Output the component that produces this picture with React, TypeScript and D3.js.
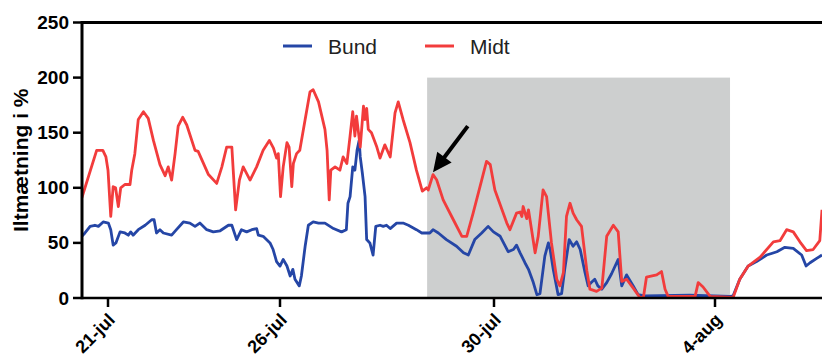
import { useMemo } from "react";
import * as d3 from "d3";

const WIDTH = 822;
const HEIGHT = 360;
const FONT = "'Liberation Sans', Arial, Helvetica, sans-serif";

// x values are in "July days" (4-aug = 35)
const tickDays = [21, 26, 30, 35];
const tickLabels = ["21-jul", "26-jul", "30-jul", "4-aug"];
const yTicks = [0, 50, 100, 150, 200, 250];

const seriesNames = ["Bund", "Midt"];
const seriesColors = ["#2546a6", "#f23c3c"];

// shaded period and the arrow, in data units
const shadeDays = [28.75, 35.34];
const shadeTop = 200;
const arrowFrom = [29.51, 156];
const arrowTo = [28.86, 114];

const midtDays = [
  20.24, 20.67, 20.85, 20.94, 21.0, 21.08, 21.15, 21.22, 21.3, 21.37, 21.49, 21.64, 21.69, 21.78,
  21.88, 22.03, 22.17, 22.32, 22.51, 22.66, 22.75, 22.85, 22.95, 23.04, 23.17, 23.29, 23.53,
  23.62, 23.92, 24.16, 24.31, 24.45, 24.6, 24.64, 24.71, 24.82, 24.93, 25.13, 25.32, 25.51,
  25.69, 25.81, 25.9, 25.95, 26.01, 26.06, 26.13, 26.17, 26.22, 26.25, 26.31, 26.37, 26.47,
  26.56, 26.62, 26.72, 26.84, 26.88, 26.92, 26.95, 27.03, 27.12, 27.18, 27.25, 27.31, 27.36,
  27.4, 27.43, 27.46, 27.5, 27.56, 27.59, 27.62, 27.65, 27.71, 27.81, 27.87, 27.96, 28.06,
  28.15, 28.21, 28.3, 28.43, 28.55, 28.66, 28.74, 28.77, 28.86, 28.93, 29.05, 29.24, 29.4,
  29.49, 29.61, 29.77, 29.86, 29.93, 30.02, 30.29, 30.36, 30.51, 30.59, 30.63, 30.66, 30.74,
  30.78, 30.85, 30.93, 31.0, 31.11, 31.19, 31.3, 31.42, 31.49, 31.57, 31.64, 31.72, 31.79,
  31.87, 31.98, 32.1, 32.17, 32.32, 32.44, 32.55, 32.7, 32.81, 32.89, 33.0, 33.15, 33.3, 33.38,
  33.45, 33.68, 33.79, 33.87, 33.94, 34.55, 34.62, 34.73, 34.89, 35.41, 35.56, 35.75, 36.02,
  36.32, 36.47, 36.62, 36.77, 36.92, 37.07, 37.22, 37.37, 37.42,
];
const midtValues = [
  91, 134, 134, 128, 116, 74, 101, 100, 83, 100, 103, 103, 116, 131,
  162, 169, 163, 143, 121, 111, 119, 107, 131, 156, 164, 157, 134,
  133, 112, 104, 119, 137, 137, 116, 80, 107, 119, 107, 119, 134,
  143, 136, 127, 131, 92, 119, 141, 137, 101, 122, 131, 134, 162,
  187, 189, 178, 153, 134, 89, 116, 119, 116, 128, 122, 147, 169,
  147, 165, 153, 137, 174, 162, 172, 153, 150, 137, 127, 139, 128,
  168, 178, 162, 141, 116, 97, 100, 98, 112, 107, 89, 71, 56,
  56, 77, 107, 124, 121, 98, 68, 62, 77, 78, 74, 83, 72,
  80, 62, 41, 56, 98, 92, 50, 17, 11, 23, 74, 86, 77,
  71, 65, 25, 8, 6, 9, 56, 66, 60, 15, 17, 9, 0.5, 0.5,
  19, 21, 24, 8, 1.5, 1.5, 14, 10, 1.5, 0.5, 17, 29, 37,
  51, 52, 62, 60, 51, 43, 44, 52, 80,
];

const bundDays = [
  20.24, 20.33, 20.48, 20.62, 20.72, 20.86, 21.01, 21.08, 21.15, 21.23, 21.35, 21.49, 21.59,
  21.66, 21.73, 21.88, 22.08, 22.27, 22.34, 22.41, 22.51, 22.61, 22.85, 22.99, 23.19, 23.38,
  23.53, 23.67, 23.87, 24.06, 24.26, 24.5, 24.6, 24.74, 24.88, 25.03, 25.18, 25.32, 25.37,
  25.51, 25.71, 25.8, 25.9, 26.0, 26.06, 26.13, 26.19, 26.24, 26.28, 26.36, 26.4, 26.47, 26.53,
  26.62, 26.72, 26.84, 27.0, 27.15, 27.24, 27.27, 27.31, 27.36, 27.4, 27.44, 27.48, 27.5,
  27.54, 27.59, 27.62, 27.68, 27.74, 27.79, 27.87, 27.93, 27.99, 28.06, 28.18, 28.3, 28.4,
  28.55, 28.65, 28.8, 28.86, 28.96, 29.11, 29.3, 29.43, 29.52, 29.64, 29.77, 29.89, 29.99,
  30.14, 30.32, 30.44, 30.51, 30.59, 30.7, 30.78, 30.89, 30.97, 31.04, 31.15, 31.23, 31.27,
  31.34, 31.45, 31.53, 31.6, 31.7, 31.79, 31.87, 31.95, 32.06, 32.13, 32.2, 32.28, 32.35,
  32.44, 32.55, 32.66, 32.81, 32.89, 33.0, 33.15, 33.26, 33.41, 34.43, 35.34, 35.41, 35.56,
  35.75, 35.94, 36.17, 36.4, 36.58, 36.77, 36.96, 37.06, 37.15, 37.3, 37.42,
];
const bundValues = [
  56, 59, 65, 66, 65, 69, 68, 62, 48, 50, 60, 59, 57,
  60, 57, 62, 66, 71, 71, 59, 62, 59, 57, 62, 69, 68,
  65, 68, 62, 60, 61, 66, 66, 53, 62, 60, 62, 63, 57,
  56, 50, 44, 33, 29, 35, 29, 20, 26, 17, 11, 20, 47, 66,
  69, 68, 68, 63, 60, 62, 86, 92, 119, 116, 134, 143, 128,
  113, 92, 53, 50, 39, 65, 66, 65, 66, 63, 68, 68, 66,
  62, 59, 59, 62, 59, 53, 47, 41, 39, 53, 59, 65, 60,
  56, 42, 44, 48, 41, 32, 26, 14, 3, 4, 38, 50, 44,
  26, 3, 4, 26, 53, 47, 51, 44, 23, 11, 14, 17, 11,
  8, 14, 22, 35, 11, 21, 11, 3, 2, 2.5, 1.5, 2, 17,
  29, 33, 39, 42, 46, 45, 39, 29, 32, 36, 39,
];

export default function App() {
  const x = useMemo(
    () =>
      d3
        .scaleLinear()
        .domain([20.244, 21, 26, 30, 35, 37.42])
        .range([82, 108, 280, 494, 715, 822]),
    []
  );
  const y = useMemo(() => d3.scaleLinear().domain([0, 250]).range([298, 22.5]), []);

  const line = d3
    .line<[number, number]>()
    .x((d) => x(d[0]))
    .y((d) => y(d[1]));

  const series = [
    d3.zip(bundDays, bundValues) as [number, number][],
    d3.zip(midtDays, midtValues) as [number, number][],
  ];

  // arrow geometry from the data points
  const ax0 = x(arrowFrom[0]);
  const ay0 = y(arrowFrom[1]);
  const ax1 = x(arrowTo[0]);
  const ay1 = y(arrowTo[1]);
  const len = Math.hypot(ax1 - ax0, ay1 - ay0);
  const ux = (ax1 - ax0) / len;
  const uy = (ay1 - ay0) / len;
  const headLen = 19;
  const headHalf = 9;
  const bx = ax1 - ux * headLen;
  const by = ay1 - uy * headLen;
  const head = [
    [ax1, ay1],
    [bx - uy * headHalf, by + ux * headHalf],
    [bx + uy * headHalf, by - ux * headHalf],
  ]
    .map((p) => p.join(","))
    .join(" ");

  const left = x.range()[0];
  const right = WIDTH;

  return (
    <svg
      width={WIDTH}
      height={HEIGHT}
      style={{ position: "absolute", left: 0, top: 0, background: "#fff" }}
      fontFamily={FONT}
    >
      <defs>
        <clipPath id="plot">
          <rect x={left} y={0} width={right - left} height={y(0)} />
        </clipPath>
      </defs>

      <rect
        x={x(shadeDays[0])}
        y={y(shadeTop)}
        width={x(shadeDays[1]) - x(shadeDays[0])}
        height={y(0) - y(shadeTop)}
        fill="#cdcfcf"
      />

      <g clipPath="url(#plot)">
        {series.map((s, i) => (
          <path
            key={i}
            d={line(s) ?? ""}
            fill="none"
            stroke={seriesColors[i]}
            strokeWidth={2.8}
            strokeLinejoin="round"
          />
        ))}
      </g>

      {/* arrow */}
      <line x1={ax0} y1={ay0} x2={bx + ux * 2} y2={by + uy * 2} stroke="#000" strokeWidth={4} />
      <polygon points={head} fill="#000" />

      {/* frame */}
      <line x1={left} x2={right} y1={y(250)} y2={y(250)} stroke="#000" strokeWidth={3} />
      <line x1={left} x2={right} y1={y(0)} y2={y(0)} stroke="#000" strokeWidth={2.5} />
      <line x1={left} x2={left} y1={y(250) - 1.5} y2={y(0) + 1.2} stroke="#000" strokeWidth={3} />

      {/* y axis */}
      {yTicks.map((t) => (
        <g key={t}>
          <line x1={73} x2={left} y1={y(t)} y2={y(t)} stroke="#000" strokeWidth={2.5} />
          <text
            x={69}
            y={y(t)}
            textAnchor="end"
            dominantBaseline="central"
            fontSize={19}
            fontWeight="bold"
          >
            {t}
          </text>
        </g>
      ))}
      <text
        transform={`translate(28,${(y(0) + y(250)) / 2}) rotate(-90)`}
        textAnchor="middle"
        fontSize={21}
        fontWeight="bold"
      >
        Iltmætning i %
      </text>

      {/* x axis */}
      {tickDays.map((d, i) => (
        <g key={d}>
          <line x1={x(d)} x2={x(d)} y1={y(0)} y2={y(0) + 9} stroke="#000" strokeWidth={2.5} />
          <text
            transform={`translate(${x(d) + 8},${y(0) + 23}) rotate(-45)`}
            textAnchor="end"
            fontSize={18}
            fontWeight="bold"
          >
            {tickLabels[i]}
          </text>
        </g>
      ))}

      {/* legend */}
      {seriesNames.map((name, i) => {
        const lx = 283 + i * 142;
        return (
          <g key={name}>
            <line x1={lx} x2={lx + 29} y1={46} y2={46} stroke={seriesColors[i]} strokeWidth={3} />
            <text x={lx + 45} y={46} dominantBaseline="central" fontSize={21} fill="#222">
              {name}
            </text>
          </g>
        );
      })}
    </svg>
  );
}
